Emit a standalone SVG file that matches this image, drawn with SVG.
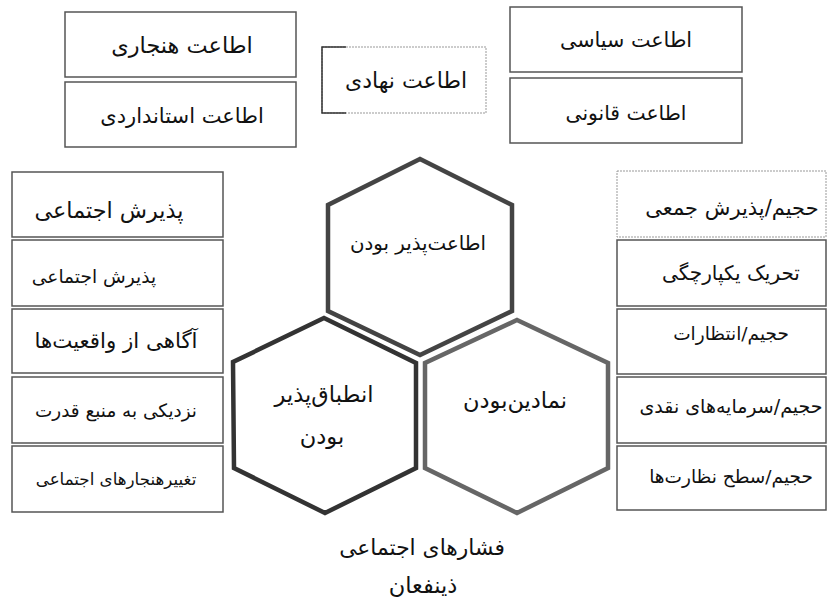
<svg xmlns="http://www.w3.org/2000/svg" width="828" height="602" viewBox="0 0 828 602">
<style>
text{font-family:"DejaVu Sans","Noto Sans",sans-serif;fill:#111;text-anchor:middle;direction:rtl}
.box{fill:#fff;stroke:#555;stroke-width:1.5}
.dash{fill:#fff;stroke:#999;stroke-width:1;stroke-dasharray:2 1}
.hex{fill:#fff;stroke-width:4.5;stroke-linejoin:miter}
</style>
<rect width="828" height="602" fill="#fff"/>
<g id="n-hanjari"><rect class="box" x="65" y="12" width="231" height="65"/><text font-size="22.4" x="182" y="53">اطاعت هنجاری</text></g>
<g id="n-standardi"><rect class="box" x="65" y="82" width="231" height="65"/><text font-size="21" x="182" y="123">اطاعت استانداردی</text></g>
<g id="n-nahadi"><rect class="dash" x="322" y="47" width="164" height="66"/><path d="M346 47H322V113H346" fill="none" stroke="#333" stroke-width="1.5"/><text font-size="22" x="406" y="88">اطاعت نهادی</text></g>
<g id="n-siasi"><rect class="box" x="510" y="7" width="232" height="65"/><text font-size="20.7" x="626" y="47">اطاعت سیاسی</text></g>
<g id="n-ghanooni"><rect class="box" x="510" y="78" width="232" height="65"/><text font-size="20.3" x="626" y="120">اطاعت قانونی</text></g>
<g id="n-l1"><rect class="box" x="12" y="172" width="211" height="65"/><text font-size="22.3" x="109" y="218">پذیرش اجتماعی</text></g>
<g id="n-l2"><rect class="box" x="12" y="240" width="211" height="66"/><text font-size="18.6" x="94" y="283">پذیرش اجتماعی</text></g>
<g id="n-l3"><rect class="box" x="12" y="309" width="211" height="64"/><text font-size="21.3" x="116" y="348">آگاهی از واقعیت‌ها</text></g>
<g id="n-l4"><rect class="box" x="12" y="377" width="211" height="66"/><text font-size="18.4" x="116" y="417">نزدیکی به منبع قدرت</text></g>
<g id="n-l5"><rect class="box" x="12" y="446" width="211" height="66"/><text font-size="16.7" x="116" y="485">تغییرهنجارهای اجتماعی</text></g>
<g id="n-r1"><rect class="dash" x="617" y="171" width="209" height="66"/><text font-size="21" x="732" y="215">حجیم/پذیرش جمعی</text></g>
<g id="n-r2"><rect class="box" x="617" y="240" width="209" height="66"/><text font-size="20" x="731" y="280">تحریک یکپارچگی</text></g>
<g id="n-r3"><rect class="box" x="617" y="309" width="209" height="65"/><text font-size="18.5" x="731" y="340">حجیم/انتظارات</text></g>
<g id="n-r4"><rect class="box" x="617" y="377" width="209" height="66"/><text font-size="19" x="731" y="413">حجیم/سرمایه‌های نقدی</text></g>
<g id="n-r5"><rect class="box" x="617" y="446" width="209" height="64"/><text font-size="18.5" x="731" y="483">حجیم/سطح نظارت‌ها</text></g>
<g id="n-hex-top"><polygon class="hex" stroke="#444" points="420,159 512,205 512,311 420,355 328,311 328,205"/><text font-size="19.8" x="418" y="250">اطاعت‌پذیر بودن</text></g>
<g id="n-hex-left"><polygon class="hex" stroke="#333" points="324,318 416,363 416,468 325,513 234,468 233,362"/><text font-size="22.5" x="324" y="402">انطباق‌پذیر</text><text font-size="22.5" x="322" y="444">بودن</text></g>
<g id="n-hex-right"><polygon class="hex" stroke="#666" points="517,320 608,363 608,468 517,513 425,468 425,363"/><text font-size="22.5" x="515" y="408">نمادین‌بودن</text></g>
<g id="labels"><text font-size="21.8" x="422" y="555">فشارهای اجتماعی</text><text font-size="22.5" x="423" y="593">ذینفعان</text></g>
<g id="connectors"></g>
</svg>
